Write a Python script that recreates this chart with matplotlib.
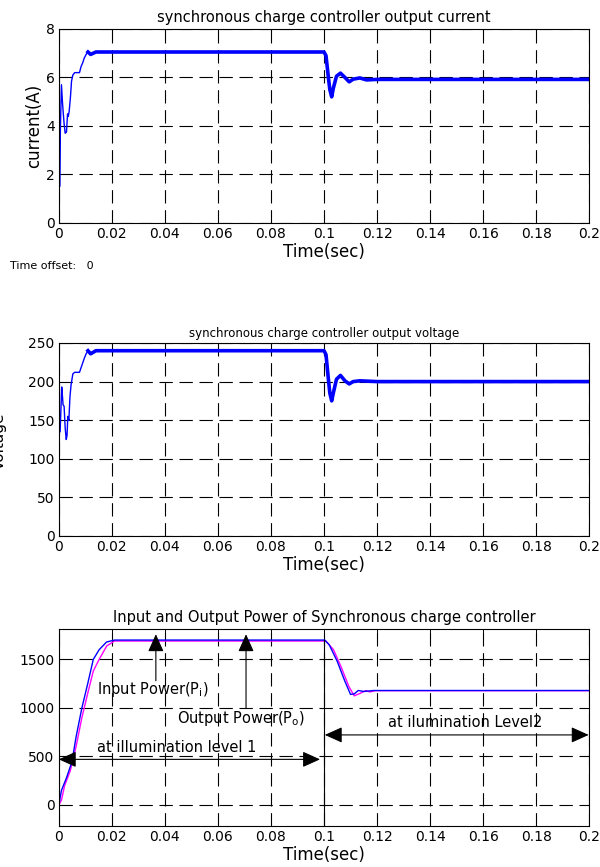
import numpy as np
import matplotlib.pyplot as plt

plt.rcParams['font.family'] = ['DejaVu Sans']
plt.rcParams['xtick.direction'] = 'in'
plt.rcParams['ytick.direction'] = 'in'

# ---- data ----
t_cur = [0, 0.0002, 0.0003, 0.0006, 0.0010, 0.0014, 0.0017, 0.0020, 0.0024,
         0.0029, 0.0033, 0.0036, 0.0039, 0.0044, 0.0048, 0.0053, 0.0060,
         0.0070, 0.0078, 0.0084, 0.0090, 0.0096, 0.0103, 0.0110, 0.0120,
         0.0130, 0.0140, 0.0200, 0.0500, 0.0800, 0.1000, 0.10075, 0.1016,
         0.1022, 0.1029, 0.1035, 0.1047, 0.1062, 0.1079, 0.1095, 0.1110,
         0.1135, 0.1160, 0.1200, 0.1600, 0.2000]
current = [0, 4.0, 1.5, 3.9, 5.7, 4.95, 4.5, 4.1, 3.7,
           3.75, 4.5, 4.4, 4.6, 5.2, 5.85, 6.1, 6.2,
           6.2, 6.2, 6.45, 6.6, 6.8, 6.95, 7.05, 6.95,
           7.0, 7.05, 7.05, 7.05, 7.05, 7.05, 6.9, 6.05,
           5.5, 5.2, 5.55, 6.05, 6.18, 6.0, 5.82, 5.93,
           5.98, 5.9, 5.92, 5.92, 5.92]

t_volt = [0, 0.0002, 0.0005, 0.0011, 0.0014, 0.0016, 0.0020, 0.0024, 0.0028,
          0.0031, 0.0034, 0.0038, 0.0042, 0.0046, 0.0053, 0.0060, 0.0070,
          0.0078, 0.0084, 0.0090, 0.0096, 0.0103, 0.0110, 0.0120, 0.0130,
          0.0140, 0.0200, 0.0500, 0.0800, 0.1000, 0.10075, 0.1016, 0.1022,
          0.1029, 0.1035, 0.1047, 0.1062, 0.1079, 0.1095, 0.1110, 0.1135,
          0.1200, 0.1600, 0.2000]
voltage = [0, 135, 135, 193, 180, 170, 168, 140, 125,
           130, 155, 150, 180, 195, 210, 212, 212,
           212, 218, 224, 230, 236, 240, 236, 238,
           240, 240, 240, 240, 240, 235, 205, 185,
           175, 185, 203, 208, 201, 197, 200, 201,
           200, 200, 200]

t_pin = [0, 0.0010, 0.0029, 0.0050, 0.0065, 0.0087, 0.0109, 0.0130, 0.0152,
         0.0180, 0.0210, 0.0500, 0.1000, 0.1003, 0.1020, 0.1050, 0.1078,
         0.1100, 0.1114, 0.1129, 0.1150, 0.1187, 0.1500, 0.2000]
p_in = [0, 150, 280, 450, 700, 1000, 1250, 1500, 1600,
        1680, 1700, 1700, 1700, 1700, 1650, 1480, 1280,
        1140, 1145, 1180, 1170, 1180, 1180, 1180]

t_pout = [0, 0.0010, 0.0022, 0.0043, 0.0065, 0.0087, 0.0109, 0.0130, 0.0152,
          0.0181, 0.0210, 0.0239, 0.0500, 0.1000, 0.1007, 0.1036, 0.1065,
          0.1094, 0.1114, 0.1136, 0.1158, 0.1172, 0.1194, 0.1500, 0.2000]
p_out = [0, 50, 200, 350, 600, 900, 1150, 1380, 1500,
         1640, 1690, 1690, 1690, 1690, 1690, 1600, 1420,
         1220, 1125, 1150, 1180, 1165, 1178, 1178, 1178]

x_ticks = [0, 0.02, 0.04, 0.06, 0.08, 0.1, 0.12, 0.14, 0.16, 0.18, 0.2]
x_labels = ['0', '0.02', '0.04', '0.06', '0.08', '0.1', '0.12', '0.14',
            '0.16', '0.18', '0.2']


def StyleAxes(ax, yticks, ylim):
    ax.set_xlim(0, 0.2)
    ax.set_ylim(*ylim)
    ax.set_xticks(x_ticks)
    ax.set_xticklabels(x_labels)
    ax.set_yticks(yticks)
    ax.tick_params(top=True, right=True, labelsize=10, length=4, width=0.7,
                   pad=3)
    ax.grid(True, color='black', lw=0.8, linestyle=(0, (12, 6)))
    for s in ax.spines.values():
        s.set_linewidth(0.8)
    ax.set_xlabel('Time(sec)', fontsize=12, labelpad=1)


fig = plt.figure(figsize=(6, 8.67), dpi=100)

# current
ax1 = fig.add_axes([0.098, 0.7428, 0.884, 0.2238])
t1 = np.array(t_cur)
c1 = np.array(current)
ax1.plot(t1, c1, color='#0000ff', lw=1.0)
m = t1 >= 0.0105
ax1.plot(t1[m], c1[m], color='#0000ff', lw=2.6)
StyleAxes(ax1, [0, 2, 4, 6, 8], (0, 8))
ax1.set_title('synchronous charge controller output current', fontsize=10.5,
              pad=5)
ax1.set_ylabel('current(A)', fontsize=12, labelpad=2)
fig.text(0.017, 0.690, 'Time offset:   0', fontsize=8)

# voltage
ax2 = fig.add_axes([0.098, 0.3818, 0.884, 0.2226])
t2 = np.array(t_volt)
v2 = np.array(voltage)
ax2.plot(t2, v2, color='#0000ff', lw=1.0)
m = t2 >= 0.0105
ax2.plot(t2[m], v2[m], color='#0000ff', lw=2.6)
StyleAxes(ax2, [0, 50, 100, 150, 200, 250], (0, 250))
ax2.set_title('synchronous charge controller output voltage', fontsize=8.5,
              pad=4)
# the ylabel is clipped by the left edge in the original
fig.text(0.011, 0.491, 'Voltage', fontsize=11, rotation=90, ha='right',
         va='center')

# power
ax3 = fig.add_axes([0.098, 0.0473, 0.884, 0.2272])
ax3.plot(t_pout, p_out, color='#ff00ff', lw=1.0)
ax3.plot(t_pin, p_in, color='#0000ff', lw=1.0)
StyleAxes(ax3, [0, 500, 1000, 1500], (-217, 1814))
ax3.set_title('Input and Output Power of Synchronous charge controller',
              fontsize=10.5, pad=5)
ax3.plot([0.1, 0.1], [-217, 1700], color='black', lw=0.8)

up = dict(arrowstyle='-|>,head_length=0.6,head_width=0.27', color='black',
          lw=0.8, mutation_scale=18, shrinkA=0, shrinkB=0)
ax3.annotate('', xy=(0.0366, 1760), xytext=(0.0366, 1280), arrowprops=up)
ax3.annotate('', xy=(0.0706, 1760), xytext=(0.0706, 1000), arrowprops=up)
ax3.text(0.0145, 1190, r'Input Power(P$_\mathregular{i}$)', fontsize=10.5,
         va='center')
ax3.text(0.0445, 895, r'Output Power(P$_\mathregular{o}$)', fontsize=10.5,
         va='center')

both = dict(arrowstyle='<|-|>,head_length=0.6,head_width=0.27',
            color='black', lw=0.8, mutation_scale=18, shrinkA=0, shrinkB=0)
ax3.annotate('', xy=(0.0, 470), xytext=(0.0985, 470), arrowprops=both)
ax3.text(0.0145, 590, 'at illumination level 1', fontsize=10.5, va='center')
ax3.annotate('', xy=(0.1003, 722), xytext=(0.1998, 722), arrowprops=both)
ax3.text(0.1242, 845, 'at ilumination Level2', fontsize=10.5, va='center')

fig.savefig('out.png', dpi=100)
